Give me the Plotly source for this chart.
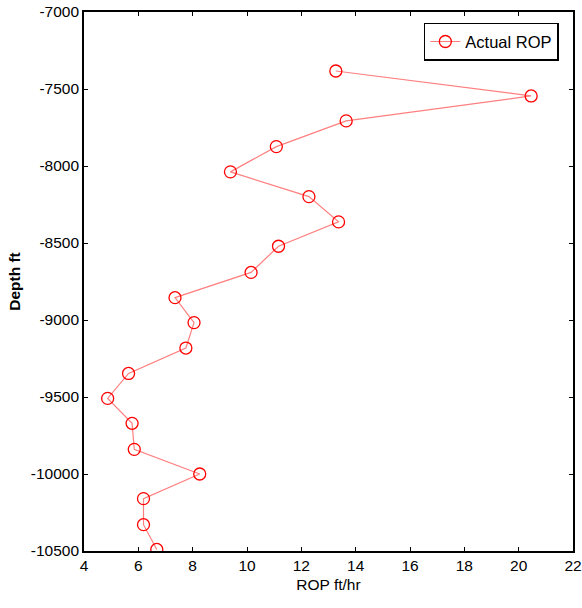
import plotly.graph_objects as go

rop = [13.27, 20.46, 13.65, 11.08, 9.39, 12.28, 13.37, 11.16, 10.15, 7.35,
       8.05, 7.75, 5.64, 4.87, 5.77, 5.85, 8.26, 6.19, 6.19, 6.68]
depth = [-7383, -7545, -7707, -7874, -8038, -8199, -8363, -8521, -8691, -8855,
         -9017, -9182, -9347, -9509, -9671, -9840, -10000, -10160, -10329, -10490]

x_ticks = [4, 6, 8, 10, 12, 14, 16, 18, 20, 22]
y_ticks = [-7000, -7500, -8000, -8500, -9000, -9500, -10000, -10500]

FONT = "Liberation Sans Narrow, Arial Narrow, Liberation Sans, Arial, sans-serif"

fig = go.Figure()
fig.add_trace(go.Scatter(
    x=rop, y=depth, mode="lines+markers", name="Actual ROP",
    line=dict(color="rgba(255,0,0,0.5)", width=1.2),
    marker=dict(symbol="circle-open", size=12, color="#ff0000",
                line=dict(color="#ff0000", width=1.3)),
))

axis_common = dict(
    showline=True, linecolor="black", linewidth=1.6, mirror="ticks",
    ticks="inside", ticklen=4, tickwidth=1.2, tickcolor="black",
    showgrid=False, zeroline=False, automargin=False,
    ticklabeloverflow="allow",
    tickfont=dict(family=FONT, size=15.5, color="black"),
)

fig.update_layout(
    width=582, height=608,
    margin=dict(l=84, r=9, t=12, b=57, autoexpand=False),
    paper_bgcolor="white", plot_bgcolor="white",
    font=dict(family=FONT, size=15, color="black"),
    xaxis=dict(range=[4, 22], tickvals=x_ticks, ticktext=[str(v) for v in x_ticks],
               title=dict(text="ROP ft/hr", font=dict(family=FONT, size=15.5), standoff=6),
               **axis_common),
    yaxis=dict(range=[-10500, -7000], tickvals=y_ticks, ticktext=[str(v) for v in y_ticks],
               title=dict(text="<b>Depth ft</b>", font=dict(family=FONT, size=15.5), standoff=6),
               **axis_common),
    showlegend=True,
    legend=dict(x=0.695, y=0.98, xanchor="left", yanchor="top",
                bordercolor="black", borderwidth=1.5, bgcolor="white",
                font=dict(family=FONT, size=16.5, color="black")),
)

fig.write_html("out.html", config={"displayModeBar": False},
               post_script="document.body.style.margin='0';")
